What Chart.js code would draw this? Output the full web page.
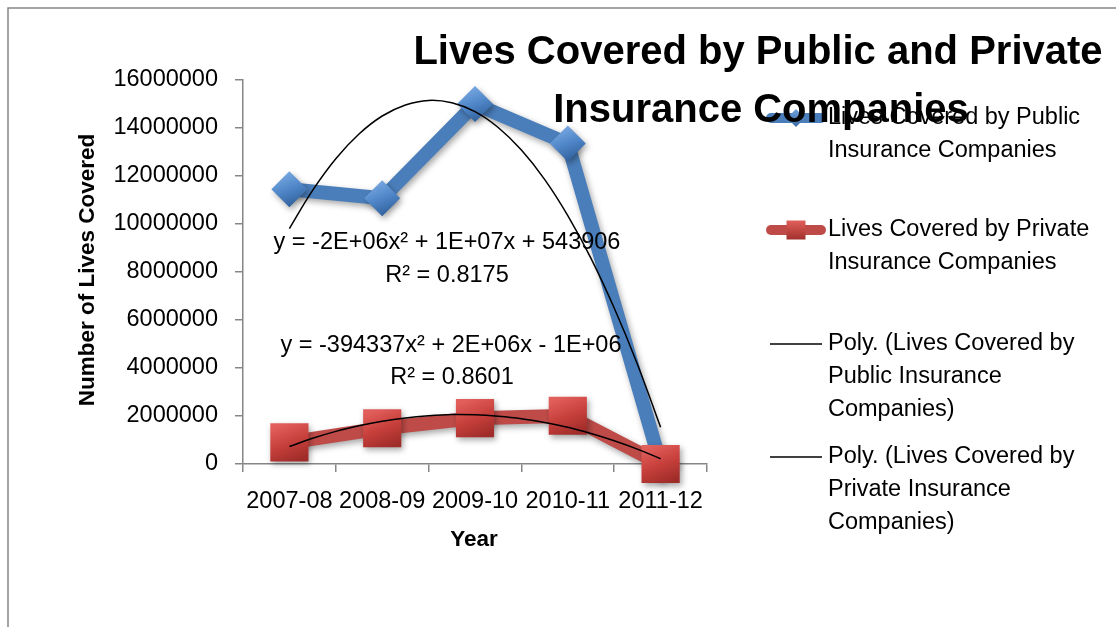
<!DOCTYPE html>
<html>
<head>
<meta charset="utf-8">
<script src="https://cdn.jsdelivr.net/npm/chart.js@4/dist/chart.umd.min.js"></script>
<style>
  html, body { margin: 0; padding: 0; background: #ffffff; }
  #wrap { width: 1116px; height: 627px; position: relative; }
</style>
</head>
<body>
<div id="wrap"><canvas id="c" width="1116" height="627"></canvas></div>
<script>
// ---- data ----
const categories = ['2007-08', '2008-09', '2009-10', '2010-11', '2011-12'];
const publicLives = [11450000, 11070000, 15000000, 13350000, 0];
const privateLives = [900000, 1490000, 1910000, 2010000, 0];
// trend curves (x = category position)
const trendX = [0, 0.25, 0.5, 0.75, 1, 1.25, 1.5, 1.75, 2, 2.25, 2.5, 2.75, 3, 3.25, 3.5, 3.75, 4];
const publicTrend = [9810000, 11400000, 12720000, 13750000, 14500000, 14960000, 15150000, 15050000, 14680000, 14020000, 13080000, 11860000, 10350000, 8570000, 6500000, 4160000, 1530000];
const privateTrend = [730000, 1070000, 1360000, 1590000, 1780000, 1920000, 2010000, 2060000, 2050000, 1990000, 1890000, 1730000, 1530000, 1270000, 970000, 620000, 220000];
const yTickValues = [0, 2000000, 4000000, 6000000, 8000000, 10000000, 12000000, 14000000, 16000000];
const seriesNames = [
  ['Lives Covered by Public', 'Insurance Companies'],
  ['Lives Covered by Private', 'Insurance Companies'],
  ['Poly. (Lives Covered by', 'Public Insurance', 'Companies)'],
  ['Poly. (Lives Covered by', 'Private Insurance', 'Companies)']
];
const titleLines = ['Lives Covered by Public and Private', 'Insurance Companies'];
const trendLabels = [
  ['y = -2E+06x\u00B2 + 1E+07x + 543906', 'R\u00B2 = 0.8175'],
  ['y = -394337x\u00B2 + 2E+06x - 1E+06', 'R\u00B2 = 0.8601']
];
const xTitle = 'Year';
const yTitle = 'Number of Lives Covered';

// ---- styling ----
const FONT = "'Liberation Sans', Arial, sans-serif";
const AXIS = '#868686';
const BLUE = '#4A7EBB';
const RED = '#BE4B48';

function markerGradient(light, mid, dark, half) {
  return (c) => {
    const ch = c.chart;
    const xs = ch.scales.x, ys = ch.scales.y;
    if (!xs || !ys || !c.parsed) return mid;
    const px = xs.getPixelForValue(c.index);
    const py = ys.getPixelForValue(c.parsed.y);
    if (!isFinite(px) || !isFinite(py)) return mid;
    const g = ch.ctx.createLinearGradient(px - half * 0.4, py - half, px + half * 0.4, py + half);
    g.addColorStop(0, light);
    g.addColorStop(0.5, mid);
    g.addColorStop(1, dark);
    return g;
  };
}

const shadowPlugin = {
  id: 'shadow',
  beforeDatasetDraw(chart, args) {
    const ctx = chart.ctx;
    ctx.save();
    if (args.index < 2) {
      ctx.shadowColor = 'rgba(0,0,0,0.35)';
      ctx.shadowBlur = 6;
      ctx.shadowOffsetX = 2;
      ctx.shadowOffsetY = 3;
    }
  },
  afterDatasetDraw(chart) {
    chart.ctx.restore();
  }
};

const framePlugin = {
  id: 'frame',
  beforeDraw(chart) {
    const ctx = chart.ctx;
    ctx.save();
    ctx.fillStyle = '#ffffff';
    ctx.fillRect(0, 0, chart.width, chart.height);
    ctx.strokeStyle = AXIS;
    ctx.lineWidth = 1.5;
    ctx.beginPath();
    ctx.moveTo(8, chart.height);
    ctx.lineTo(8, 8);
    ctx.lineTo(chart.width, 8);
    ctx.stroke();
    ctx.restore();
  }
};

const annotPlugin = {
  id: 'annot',
  afterDraw(chart) {
    const ctx = chart.ctx;
    ctx.save();
    ctx.fillStyle = '#000';
    ctx.textBaseline = 'middle';

    // trendline equations
    ctx.font = '23.5px ' + FONT;
    ctx.textAlign = 'center';
    ctx.fillText(trendLabels[0][0], 447, 243);
    ctx.fillText(trendLabels[0][1], 447, 276);
    ctx.fillText(trendLabels[1][0], 451, 346);
    ctx.fillText(trendLabels[1][1], 452, 378);

    // axis titles
    ctx.font = 'bold 22.5px ' + FONT;
    ctx.fillText(xTitle, 474, 540);
    ctx.save();
    ctx.translate(88, 270);
    ctx.rotate(-Math.PI / 2);
    ctx.fillText(yTitle, 0, 0);
    ctx.restore();

    // legend
    const lx0 = 766, lx1 = 826, mx = 796;
    const rows = [118, 230, 344, 457];
    ctx.lineCap = 'round';
    ctx.lineWidth = 10;
    ctx.strokeStyle = BLUE;
    ctx.beginPath(); ctx.moveTo(lx0 + 5, rows[0]); ctx.lineTo(lx1 - 5, rows[0]); ctx.stroke();
    ctx.strokeStyle = RED;
    ctx.beginPath(); ctx.moveTo(lx0 + 5, rows[1]); ctx.lineTo(lx1 - 5, rows[1]); ctx.stroke();
    // diamond
    let g = ctx.createLinearGradient(mx, rows[0] - 9, mx, rows[0] + 9);
    g.addColorStop(0, '#6FA0DC'); g.addColorStop(1, '#3B6BA5');
    ctx.fillStyle = g;
    ctx.beginPath();
    ctx.moveTo(mx, rows[0] - 9); ctx.lineTo(mx + 9, rows[0]); ctx.lineTo(mx, rows[0] + 9); ctx.lineTo(mx - 9, rows[0]);
    ctx.closePath(); ctx.fill();
    // square
    g = ctx.createLinearGradient(mx, rows[1] - 9.5, mx, rows[1] + 9.5);
    g.addColorStop(0, '#E0605B'); g.addColorStop(1, '#A3302D');
    ctx.fillStyle = g;
    ctx.fillRect(mx - 9.5, rows[1] - 9.5, 19, 19);
    // poly lines
    ctx.lineCap = 'butt';
    ctx.lineWidth = 1.5;
    ctx.strokeStyle = '#000';
    ctx.beginPath(); ctx.moveTo(770, rows[2]); ctx.lineTo(822, rows[2]); ctx.stroke();
    ctx.beginPath(); ctx.moveTo(770, rows[3]); ctx.lineTo(822, rows[3]); ctx.stroke();

    ctx.fillStyle = '#000';
    ctx.font = '23.5px ' + FONT;
    ctx.textAlign = 'left';
    const lh = 32.7;
    seriesNames.forEach((lines, i) => {
      lines.forEach((t, j) => ctx.fillText(t, 828, rows[i] + j * lh));
    });

    // title
    ctx.font = 'bold 40px ' + FONT;
    ctx.textAlign = 'center';
    ctx.fillText(titleLines[0], 758, 53);
    ctx.fillText(titleLines[1], 761, 111);
    ctx.restore();
  }
};

Chart.defaults.font.family = FONT;
Chart.defaults.color = '#000';

new Chart(document.getElementById('c'), {
  type: 'line',
  data: {
    labels: categories,
    datasets: [
      {
        label: seriesNames[0].join(' '),
        data: publicLives,
        borderColor: BLUE,
        borderWidth: 14,
        pointStyle: 'rectRot',
        pointRadius: 18,
        pointBorderWidth: 0,
        pointBorderColor: 'rgba(0,0,0,0)',
        pointBackgroundColor: markerGradient('#79A9E2', '#4F86C8', '#2F5E99', 17),
        tension: 0,
        clip: false,
        order: 4
      },
      {
        label: seriesNames[1].join(' '),
        data: privateLives,
        borderColor: RED,
        borderWidth: 14,
        pointStyle: 'rect',
        pointRadius: 27,
        pointBorderWidth: 0,
        pointBorderColor: 'rgba(0,0,0,0)',
        pointBackgroundColor: markerGradient('#E2605C', '#C8403C', '#9E2C29', 19),
        tension: 0,
        clip: false,
        order: 3
      },
      {
        label: seriesNames[2].join(' '),
        data: trendX.map((x, i) => ({ x: x, y: publicTrend[i] })),
        xAxisID: 'xt',
        borderColor: '#000',
        borderWidth: 1.5,
        pointRadius: 0,
        tension: 0.4,
        clip: false,
        order: 2
      },
      {
        label: seriesNames[3].join(' '),
        data: trendX.map((x, i) => ({ x: x, y: privateTrend[i] })),
        xAxisID: 'xt',
        borderColor: '#000',
        borderWidth: 1.5,
        pointRadius: 0,
        tension: 0.4,
        clip: false,
        order: 1
      }
    ]
  },
  options: {
    responsive: false,
    animation: false,
    events: [],
    layout: { padding: { top: 80, right: 409, left: 0, bottom: 0 } },
    plugins: {
      legend: { display: false },
      title: { display: false },
      tooltip: { enabled: false }
    },
    scales: {
      x: {
        type: 'category',
        offset: true,
        afterFit: (s) => { s.height = 163; },
        grid: { offset: true, drawOnChartArea: false, drawTicks: true, tickLength: 8, color: AXIS, lineWidth: 1.5 },
        border: { color: AXIS, width: 1.5 },
        ticks: { font: { size: 23.5 }, color: '#000', padding: 15, maxRotation: 0, autoSkip: false }
      },
      xt: {
        type: 'linear',
        display: false,
        min: -0.5,
        max: 4.5
      },
      y: {
        min: 0,
        max: 16000000,
        afterFit: (s) => { s.width = 243; },
        afterBuildTicks: (s) => { s.ticks = yTickValues.map(v => ({ value: v })); },
        grid: { drawOnChartArea: false, drawTicks: true, tickLength: 8, color: AXIS, lineWidth: 1.5 },
        border: { color: AXIS, width: 1.5 },
        ticks: { font: { size: 23.5 }, color: '#000', padding: 17, callback: (v) => String(v) }
      }
    }
  },
  plugins: [framePlugin, shadowPlugin, annotPlugin]
});
</script>
</body>
</html>
